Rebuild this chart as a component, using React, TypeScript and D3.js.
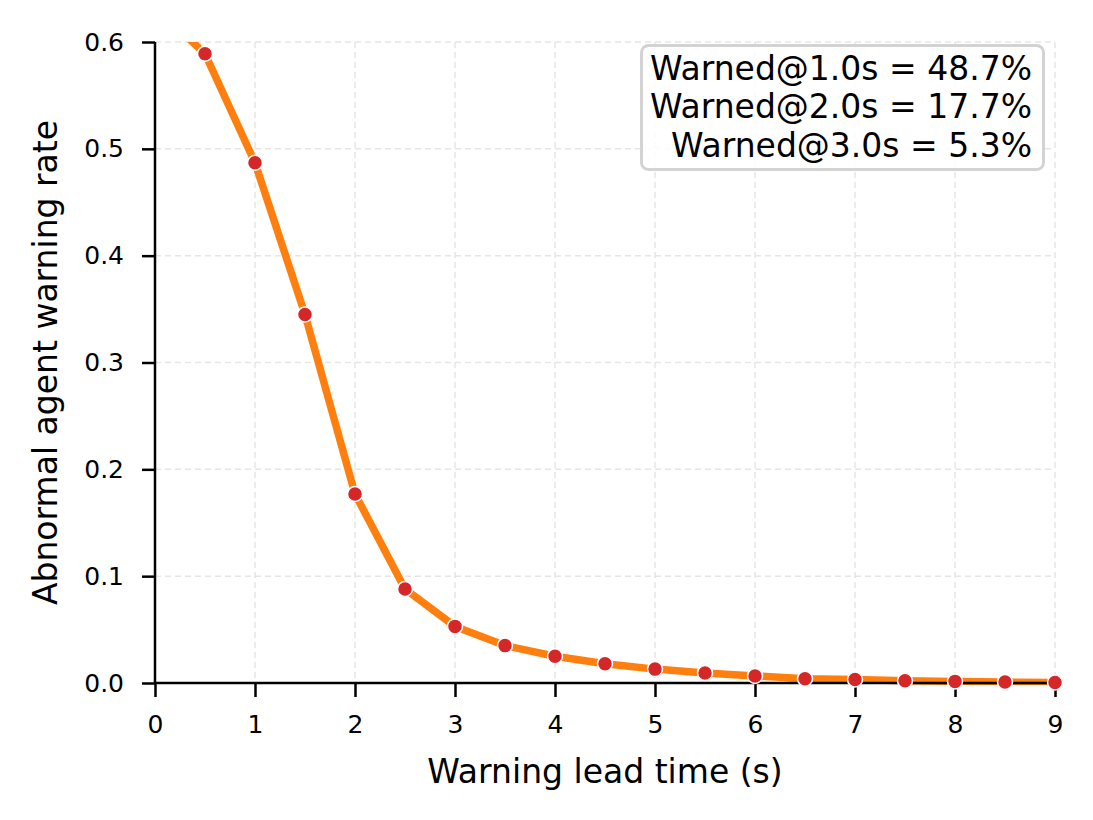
import React, { useEffect, useRef } from 'react';
import * as d3 from 'd3';

// lead time (s) and fraction of abnormal agents warned at least that early
const leadTimes = [0, 0.5, 1, 1.5, 2, 2.5, 3, 3.5, 4, 4.5, 5, 5.5, 6, 6.5, 7, 7.5, 8, 8.5, 9];
const warnRates = [0.633, 0.589, 0.487, 0.345, 0.177, 0.088, 0.053, 0.035, 0.025, 0.018,
    0.013, 0.0094, 0.0066, 0.0040, 0.0033, 0.0022, 0.0015, 0.0009, 0.0005];
const xTicks = [0, 1, 2, 3, 4, 5, 6, 7, 8, 9];
const yTicks = [0, 0.1, 0.2, 0.3, 0.4, 0.5, 0.6];
const legendLines = ['Warned@1.0s = 48.7%', 'Warned@2.0s = 17.7%', 'Warned@3.0s = 5.3%'];

const App: React.FC = () => {
    const ref = useRef<SVGSVGElement | null>(null);

    useEffect(() => {
        if (!ref.current) return;
        const width = 1093;
        const height = 820;
        const margin = { top: 42, right: 38, bottom: 137, left: 155 };
        const font = 'DejaVu Sans, sans-serif';

        const svg = d3.select(ref.current);
        svg.selectAll('*').remove();
        svg.attr('width', width).attr('height', height);

        const iw = width - margin.left - margin.right;
        const ih = height - margin.top - margin.bottom;

        const x = d3.scaleLinear().domain([0, 9]).range([0, iw]);
        const y = d3.scaleLinear().domain([0, 0.6]).range([ih, 0]);

        svg.append('defs').append('clipPath').attr('id', 'plot-clip')
            .append('rect').attr('x', 0).attr('y', 0).attr('width', iw).attr('height', ih + 2);

        const g = svg.append('g').attr('transform', `translate(${margin.left},${margin.top})`);

        // grid
        g.append('g').selectAll('line.vg').data(xTicks).enter().append('line')
            .attr('x1', d => x(d)).attr('x2', d => x(d)).attr('y1', 0).attr('y2', ih)
            .attr('stroke', '#e6e6e6').attr('stroke-width', 1.5).attr('stroke-dasharray', '6,4');
        g.append('g').selectAll('line.hg').data(yTicks).enter().append('line')
            .attr('x1', 0).attr('x2', iw).attr('y1', d => y(d)).attr('y2', d => y(d))
            .attr('stroke', '#e6e6e6').attr('stroke-width', 1.5).attr('stroke-dasharray', '6,4');

        const pts = leadTimes.map((t, i) => [t, warnRates[i]] as [number, number]);
        const line = d3.line<[number, number]>().x(d => x(d[0])).y(d => y(d[1]));

        g.append('path').datum(pts).attr('d', line).attr('clip-path', 'url(#plot-clip)')
            .attr('fill', 'none').attr('stroke', '#ff7f0e').attr('stroke-width', 7.5)
            .attr('stroke-linejoin', 'round');

        // axes
        const xAxis = g.append('g').attr('transform', `translate(0,${ih})`)
            .call(d3.axisBottom(x).tickValues(xTicks).tickFormat(d3.format('d')).tickSize(14).tickPadding(18));
        const yAxis = g.append('g')
            .call(d3.axisLeft(y).tickValues(yTicks).tickFormat(d3.format('.1f')).tickSize(13).tickPadding(18));
        [xAxis, yAxis].forEach(a => {
            a.select('.domain').attr('stroke', '#000').attr('stroke-width', 2.5);
            a.selectAll('.tick line').attr('stroke', '#000').attr('stroke-width', 2.5);
            a.selectAll('.tick text').attr('fill', '#000').style('font-size', '25px').style('font-family', font);
        });
        xAxis.select('.domain').attr('d', `M0,0H${iw}`);
        yAxis.select('.domain').attr('d', `M0,${ih}V0`);

        // markers drawn over the spines, like matplotlib with clip_on=False
        g.append('g').selectAll('circle').data(pts.filter(d => d[1] <= 0.6)).enter().append('circle')
            .attr('cx', d => x(d[0])).attr('cy', d => y(d[1])).attr('r', 7.5)
            .attr('fill', '#d62728').attr('stroke', '#fff').attr('stroke-width', 1.5);

        svg.append('text').attr('x', margin.left + iw / 2).attr('y', 783)
            .attr('text-anchor', 'middle').style('font-size', '33px').style('font-family', font)
            .text('Warning lead time (s)');
        svg.append('text').attr('transform', `translate(57,${margin.top + ih / 2}) rotate(-90)`)
            .attr('text-anchor', 'middle').style('font-size', '33px').style('font-family', font)
            .text('Abnormal agent warning rate');

        // legend box with stats
        const lg = svg.append('g');
        lg.append('rect').attr('x', 641.5).attr('y', 45.5).attr('width', 402).attr('height', 124)
            .attr('rx', 7).attr('fill', 'rgba(255,255,255,0.85)').attr('stroke', '#d3d3d3').attr('stroke-width', 3);
        lg.selectAll('text').data(legendLines).enter().append('text')
            .attr('x', 1032).attr('y', (d, i) => 79.5 + i * 38.7)
            .attr('text-anchor', 'end').style('font-size', '33px').style('font-family', font)
            .text(d => d);
    }, []);

    return <svg ref={ref} style={{ display: 'block', position: 'absolute', left: 0, top: 0 }} />;
};

export default App;
